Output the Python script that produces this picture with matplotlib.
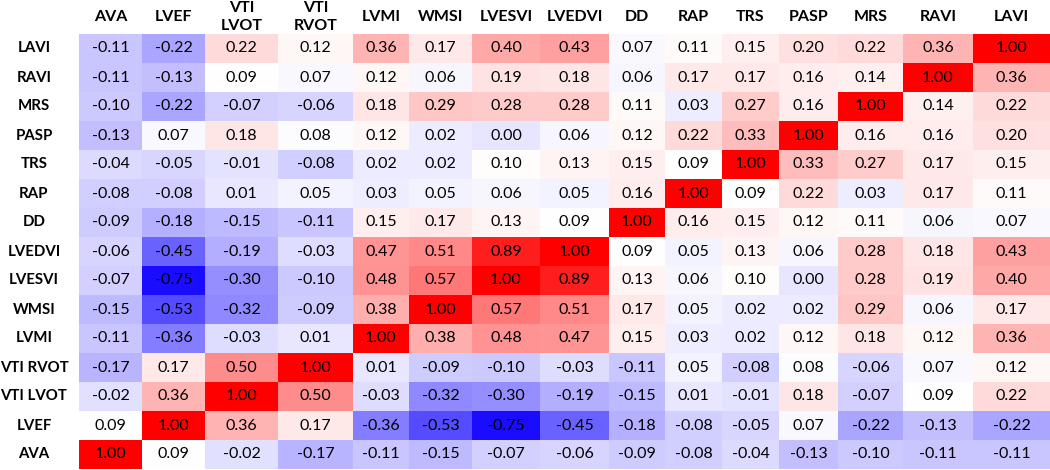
import numpy as np
import matplotlib
matplotlib.use("Agg")
import matplotlib.pyplot as plt
from matplotlib.colors import LinearSegmentedColormap, TwoSlopeNorm

plt.rcParams["font.family"] = ["Lato", "DejaVu Sans"]

col_labels = ["AVA", "LVEF", "VTI\nLVOT", "VTI\nRVOT", "LVMI", "WMSI", "LVESVI",
              "LVEDVI", "DD", "RAP", "TRS", "PASP", "MRS", "RAVI", "LAVI"]
row_labels = ["LAVI", "RAVI", "MRS", "PASP", "TRS", "RAP", "DD", "LVEDVI",
              "LVESVI", "WMSI", "LVMI", "VTI RVOT", "VTI LVOT", "LVEF", "AVA"]

lavi = [-0.11, -0.22, 0.22, 0.12, 0.36, 0.17, 0.40, 0.43, 0.07, 0.11, 0.15, 0.20, 0.22, 0.36, 1.00]
ravi = [-0.11, -0.13, 0.09, 0.07, 0.12, 0.06, 0.19, 0.18, 0.06, 0.17, 0.17, 0.16, 0.14, 1.00, 0.36]
mrs = [-0.10, -0.22, -0.07, -0.06, 0.18, 0.29, 0.28, 0.28, 0.11, 0.03, 0.27, 0.16, 1.00, 0.14, 0.22]
pasp = [-0.13, 0.07, 0.18, 0.08, 0.12, 0.02, 0.00, 0.06, 0.12, 0.22, 0.33, 1.00, 0.16, 0.16, 0.20]
trs = [-0.04, -0.05, -0.01, -0.08, 0.02, 0.02, 0.10, 0.13, 0.15, 0.09, 1.00, 0.33, 0.27, 0.17, 0.15]
rap = [-0.08, -0.08, 0.01, 0.05, 0.03, 0.05, 0.06, 0.05, 0.16, 1.00, 0.09, 0.22, 0.03, 0.17, 0.11]
dd = [-0.09, -0.18, -0.15, -0.11, 0.15, 0.17, 0.13, 0.09, 1.00, 0.16, 0.15, 0.12, 0.11, 0.06, 0.07]
lvedvi = [-0.06, -0.45, -0.19, -0.03, 0.47, 0.51, 0.89, 1.00, 0.09, 0.05, 0.13, 0.06, 0.28, 0.18, 0.43]
lvesvi = [-0.07, -0.75, -0.30, -0.10, 0.48, 0.57, 1.00, 0.89, 0.13, 0.06, 0.10, 0.00, 0.28, 0.19, 0.40]
wmsi = [-0.15, -0.53, -0.32, -0.09, 0.38, 1.00, 0.57, 0.51, 0.17, 0.05, 0.02, 0.02, 0.29, 0.06, 0.17]
lvmi = [-0.11, -0.36, -0.03, 0.01, 1.00, 0.38, 0.48, 0.47, 0.15, 0.03, 0.02, 0.12, 0.18, 0.12, 0.36]
vti_rvot = [-0.17, 0.17, 0.50, 1.00, 0.01, -0.09, -0.10, -0.03, -0.11, 0.05, -0.08, 0.08, -0.06, 0.07, 0.12]
vti_lvot = [-0.02, 0.36, 1.00, 0.50, -0.03, -0.32, -0.30, -0.19, -0.15, 0.01, -0.01, 0.18, -0.07, 0.09, 0.22]
lvef = [0.09, 1.00, 0.36, 0.17, -0.36, -0.53, -0.75, -0.45, -0.18, -0.08, -0.05, 0.07, -0.22, -0.13, -0.22]
ava = [1.00, 0.09, -0.02, -0.17, -0.11, -0.15, -0.07, -0.06, -0.09, -0.08, -0.04, -0.13, -0.10, -0.11, -0.11]

rows = [lavi, ravi, mrs, pasp, trs, rap, dd, lvedvi, lvesvi, wmsi, lvmi,
        vti_rvot, vti_lvot, lvef, ava]
corr = np.array(rows)

# layout (pixels) - spreadsheet-like column widths
label_w = 79
col_widths = [63, 63, 73, 75, 56, 63, 68, 69, 56, 57, 57, 59, 65, 70, 77]
header_h = 34
row_h = 29

W, H = 1050, 470
fig = plt.figure(figsize=(W / 100, H / 100), dpi=100)
ax = fig.add_axes([0, 0, 1, 1])
ax.set_xlim(0, W)
ax.set_ylim(H, 0)
ax.axis("off")

x_edges = label_w + np.concatenate([[0], np.cumsum(col_widths)])
y_edges = header_h + row_h * np.arange(len(row_labels) + 1)

cmap = LinearSegmentedColormap.from_list(
    "bwr_xl", [(0.10, 0.05, 1.0), (1, 1, 1), (1.0, 0.0, 0.0)])
norm = TwoSlopeNorm(vmin=corr.min(), vcenter=np.median(corr), vmax=corr.max())

ax.pcolormesh(x_edges, y_edges, corr, cmap=cmap, norm=norm,
              shading="flat", edgecolors="none", antialiased=False)

xc = (x_edges[:-1] + x_edges[1:]) / 2
yc = (y_edges[:-1] + y_edges[1:]) / 2

for i in range(corr.shape[0]):
    for j in range(corr.shape[1]):
        ax.text(xc[j], yc[i], f"{corr[i, j]:.2f}", ha="center", va="center",
                fontsize=11.5, color="black")

for i, lab in enumerate(row_labels):
    ax.text(34, yc[i], lab, ha="center", va="center",
            fontsize=10.8, fontweight="bold")

for j, lab in enumerate(col_labels):
    ax.text(xc[j], header_h / 2, lab, ha="center", va="center",
            fontsize=11.5, fontweight="bold", linespacing=1.45)

fig.savefig("out.png", dpi=100)
